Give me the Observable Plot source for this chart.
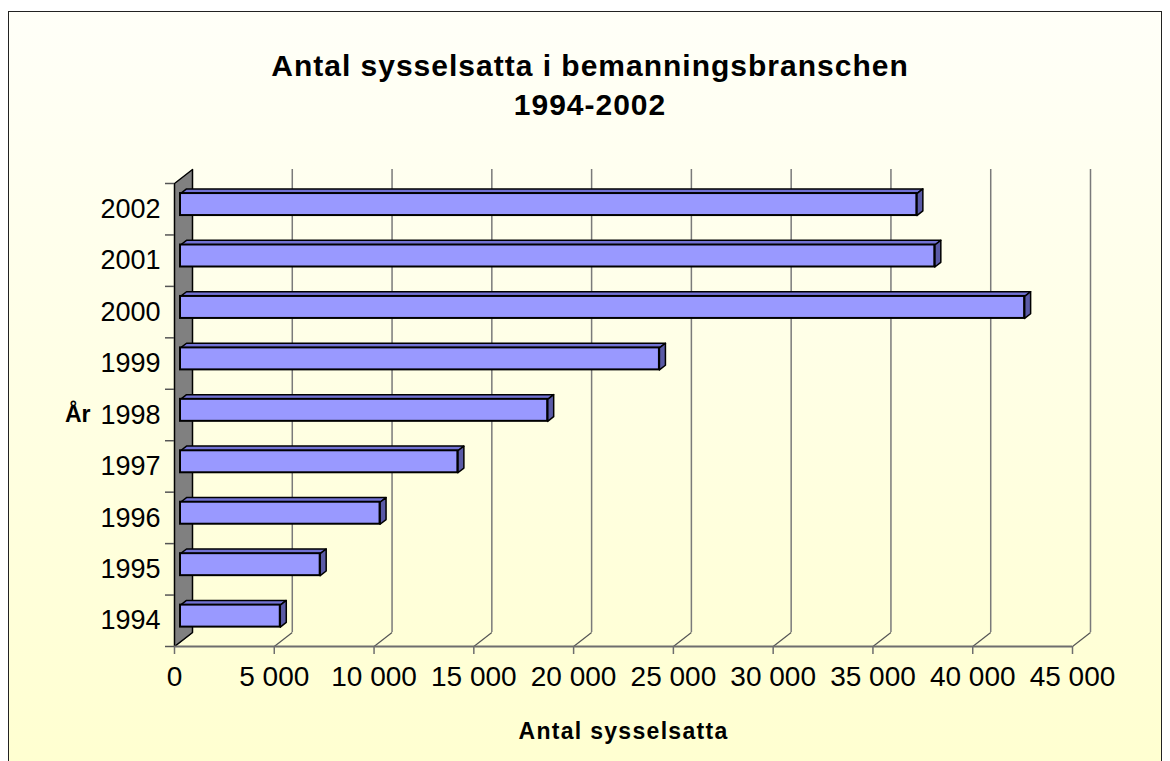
<!DOCTYPE html>
<html><head><meta charset="utf-8">
<script src="https://cdn.jsdelivr.net/npm/d3@7"></script>
<script src="https://cdn.jsdelivr.net/npm/@observablehq/plot@0.6"></script>
<style>
html,body{margin:0;padding:0;background:#fff;width:1170px;height:761px;overflow:hidden;font-family:"Liberation Sans",Arial,sans-serif;}
#frame{position:absolute;left:8px;top:11px;width:1152px;height:760px;border:1px solid #222;background:linear-gradient(to bottom,#fffff8 0%,#ffffd0 100%);}
#chart{position:absolute;left:0;top:0;width:1170px;}
#title{height:130px;box-sizing:border-box;padding-top:46px;padding-left:10px;text-align:center;font-weight:bold;font-size:30px;line-height:39px;letter-spacing:1px;color:#000;}
#chart svg{display:block;background:transparent;overflow:visible;}
</style></head><body>
<div id="frame"></div>
<div id="chart"><div id="title">Antal sysselsatta i bemanningsbranschen<br>1994-2002</div></div>
<script>
// ---- data ----
const years = ["1994", "1995", "1996", "1997", "1998", "1999", "2000", "2001", "2002"];
const values = [5000, 7000, 10000, 13900, 18400, 24000, 42300, 37800, 36900];
const xTicks = [0, 5000, 10000, 15000, 20000, 25000, 30000, 35000, 40000, 45000];
const xTickLabels = ["0", "5 000", "10 000", "15 000", "20 000", "25 000", "30 000", "35 000", "40 000", "45 000"];
const yAxisTitle = "År";
const xAxisTitle = "Antal sysselsatta";

// ---- scales / pseudo-3D projection ----
const X_DOMAIN = [0, 45000], X_RANGE = [174, 1072];
const Y_DOMAIN = [0, years.length], Y_RANGE = [516, 53];
const kx = (X_RANGE[1] - X_RANGE[0]) / (X_DOMAIN[1] - X_DOMAIN[0]);
const ky = (Y_RANGE[0] - Y_RANGE[1]) / (Y_DOMAIN[1] - Y_DOMAIN[0]);
const DX = 18 / kx, DY = 14 / ky;      // floor depth in data units
const BAR_H = 22 / ky;                 // bar thickness in rows
const rowTicks = d3.range(0, years.length + 1);

const rows = years.map((year, i) => ({year, value: values[i], r: i}));
const front = rows.map(d => ({
  year: d.year,
  x1: DX / 3, x2: d.value + DX / 3,
  y1: d.r + 0.5 - BAR_H / 2 + DY / 3, y2: d.r + 0.5 + BAR_H / 2 + DY / 3
}));
const topFace = front.flatMap(f => [
  {year: f.year, x: f.x1, y: f.y2},
  {year: f.year, x: f.x2, y: f.y2},
  {year: f.year, x: f.x2 + DX / 3, y: f.y2 + DY / 3},
  {year: f.year, x: f.x1 + DX / 3, y: f.y2 + DY / 3},
  {year: f.year, x: f.x1, y: f.y2}
]);
const sideFace = front.flatMap(f => [
  {year: f.year, x: f.x2, y: f.y1},
  {year: f.year, x: f.x2, y: f.y2},
  {year: f.year, x: f.x2 + DX / 3, y: f.y2 + DY / 3},
  {year: f.year, x: f.x2 + DX / 3, y: f.y1 + DY / 3},
  {year: f.year, x: f.x2, y: f.y1}
]);
const wall = [
  {x: 0, y: 0}, {x: 0, y: years.length}, {x: DX, y: years.length + DY}, {x: DX, y: DY}, {x: 0, y: 0}
];

const chart = Plot.plot({
  width: 1170, height: 631,
  marginLeft: 174, marginRight: 98, marginTop: 53, marginBottom: 115,
  style: {fontFamily: "'Liberation Sans', Arial, sans-serif", background: "transparent", overflow: "visible"},
  x: {domain: X_DOMAIN, range: X_RANGE, axis: null},
  y: {domain: Y_DOMAIN, range: Y_RANGE, axis: null},
  marks: [
    // back wall gridlines
    Plot.ruleX(xTicks.slice(1), {x: d => d + DX, y1: DY, y2: years.length + DY, stroke: "#7a7a7a", strokeWidth: 1.5}),
    // floor slanted gridlines
    Plot.link(xTicks, {x1: d => d, y1: 0, x2: d => d + DX, y2: DY, stroke: "#555", strokeWidth: 1.2}),
    // left wall
    Plot.line(wall, {x: "x", y: "y", fill: "#808080", stroke: "#000", strokeWidth: 1.5}),
    // front axis line + ticks
    Plot.ruleY([0], {x1: X_DOMAIN[0], x2: X_DOMAIN[1], stroke: "#6e6e6e", strokeWidth: 2}),
    Plot.ruleX(xTicks, {x: d => d, y1: 0, y2: -8 / ky, stroke: "#6e6e6e", strokeWidth: 1.5}),
    Plot.ruleY(rowTicks, {y: d => d, x1: -9 / kx, x2: 0, stroke: "#555", strokeWidth: 1.5}),
    // bars
    Plot.line(topFace, {x: "x", y: "y", z: "year", fill: "#7272d4", stroke: "#000", strokeWidth: 1.5}),
    Plot.line(sideFace, {x: "x", y: "y", z: "year", fill: "#5a5aa6", stroke: "#000", strokeWidth: 1.5}),
    Plot.rect(front, {x1: "x1", x2: "x2", y1: "y1", y2: "y2", fill: "#9999ff", stroke: "#000", strokeWidth: 2}),
    // labels
    Plot.text(rows, {x: 0, y: d => d.r + 0.5, text: "year", textAnchor: "end", dx: -14, fontSize: 27, fill: "#000"}),
    Plot.text([yAxisTitle], {x: 0, y: years.indexOf("1998") + 0.5, text: d => d, textAnchor: "end", dx: -84, fontSize: 23, fontWeight: "bold", fill: "#000"}),
    Plot.text(xTicks, {x: d => d, y: 0, text: (d, i) => xTickLabels[i], dy: 31, fontSize: 28, fill: "#000"}),
    Plot.text([xAxisTitle], {x: (X_DOMAIN[0] + X_DOMAIN[1]) / 2, y: 0, text: d => d, dy: 85, fontSize: 23, fontWeight: "bold", fill: "#000"})
  ]
});
// widen the x-axis title like the original's letter spacing
d3.select(chart).selectAll("text").filter(function () { return this.textContent === xAxisTitle; })
  .style("letter-spacing", "1.3px");
document.getElementById("chart").appendChild(chart);
</script></body></html>
